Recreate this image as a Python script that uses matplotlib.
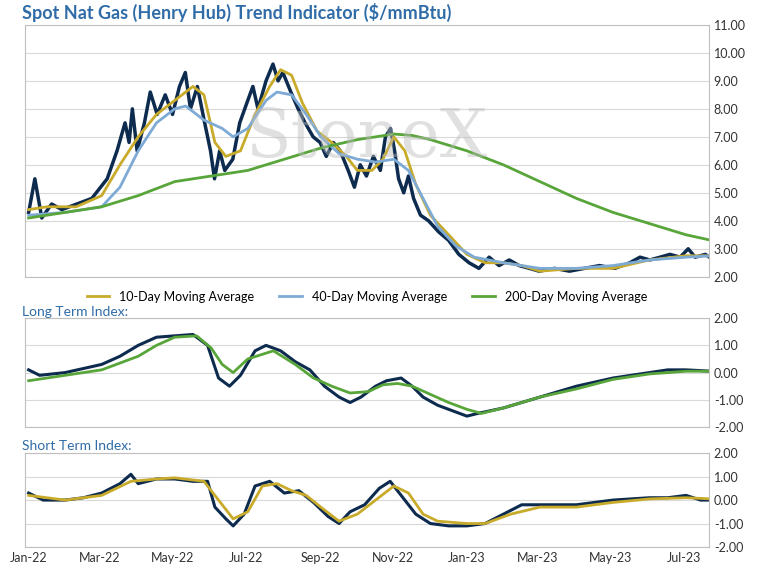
import numpy as np
import pandas as pd
import matplotlib
matplotlib.use("Agg")
import matplotlib.pyplot as plt
import matplotlib.dates as mdates

plt.rcParams['font.family'] = ['Lato', 'DejaVu Sans']

# Datos (aprox.); *_m = meses desde ene-22
price_m = [0.0, 0.17, 0.36, 0.63, 0.91, 1.32, 1.73, 2.15, 2.42, 2.64, 2.75, 2.84,
           2.97, 3.17, 3.33, 3.52, 3.74, 3.94, 4.13, 4.29, 4.43, 4.62, 4.82, 4.98,
           5.09, 5.23, 5.37, 5.59, 5.78, 6.0, 6.14, 6.28, 6.5, 6.69, 6.83, 6.96,
           7.18, 7.38, 7.57, 7.79, 7.98, 8.15, 8.34, 8.53, 8.75, 8.92, 9.08, 9.25,
           9.44, 9.63, 9.77, 9.91, 10.02, 10.13, 10.27, 10.4, 10.54, 10.73, 10.95,
           11.23, 11.5, 11.78, 12.06, 12.33, 12.61, 12.88, 13.16, 13.43, 13.71,
           13.98, 14.4, 14.81, 15.22, 15.63, 16.05, 16.46, 16.74, 17.01, 17.29,
           17.56, 17.84, 18.06, 18.25, 18.53, 18.7]
price = [4.3, 5.5, 4.1, 4.6, 4.4, 4.6, 4.8, 5.5, 6.5, 7.5, 6.8, 8.0,
         6.5, 7.5, 8.6, 7.8, 8.5, 7.8, 8.8, 9.3, 8.0, 8.8, 7.5, 6.5,
         5.5, 6.5, 5.8, 6.2, 7.5, 8.3, 8.8, 8.0, 9.0, 9.6, 9.0, 9.3,
         8.6, 8.0, 7.5, 7.0, 6.8, 6.3, 6.8, 6.5, 5.8, 5.2, 6.0, 5.6,
         6.3, 5.8, 7.0, 7.3, 6.5, 5.5, 5.0, 5.6, 4.8, 4.2, 4.0,
         3.6, 3.3, 2.8, 2.5, 2.3, 2.7, 2.4, 2.6, 2.4, 2.3,
         2.2, 2.3, 2.2, 2.3, 2.4, 2.3, 2.5, 2.7, 2.6, 2.7,
         2.8, 2.7, 3.0, 2.7, 2.8, 2.65]
ma10_m = [0, 0.5, 1.3, 2, 2.5, 3, 3.5, 4, 4.5, 4.8, 5.1, 5.4, 5.8, 6.2, 6.6, 6.9,
          7.2, 7.5, 7.9, 8.3, 8.7, 9.0, 9.4, 9.7, 10.0, 10.3, 10.6, 11.0, 11.5,
          12.0, 12.5, 13, 13.5, 14, 15, 16, 17, 18, 18.7]
ma10 = [4.4, 4.5, 4.5, 4.9, 6.0, 7.0, 7.8, 8.3, 8.8, 8.5, 6.8, 6.3, 6.5, 7.8,
        8.8, 9.4, 9.2, 8.2, 7.2, 6.8, 6.3, 5.8, 5.8, 6.2, 7.0, 6.5, 5.3, 4.2,
        3.5, 2.8, 2.5, 2.5, 2.4, 2.2, 2.3, 2.3, 2.6, 2.75, 2.75]
ma40_m = [0, 1, 2, 2.5, 3, 3.5, 4, 4.3, 4.8, 5.3, 5.6, 6, 6.5, 6.8, 7.2, 7.6, 8,
          8.5, 9, 9.5, 10, 10.4, 10.8, 11.2, 11.7, 12.2, 13, 14, 15, 16, 17, 18, 18.7]
ma40 = [4.2, 4.3, 4.5, 5.2, 6.5, 7.5, 8.0, 8.1, 7.6, 7.3, 7.0, 7.3, 8.3, 8.6,
        8.5, 7.8, 7.0, 6.4, 6.2, 6.1, 6.2, 5.8, 4.8, 3.8, 3.1, 2.7, 2.5, 2.3,
        2.3, 2.4, 2.6, 2.7, 2.75]
ma200_m = [0, 2, 3, 4, 5, 6, 7, 8, 9, 10, 10.5, 11, 12, 13, 14, 15, 16, 17, 18, 18.7]
ma200 = [4.1, 4.5, 4.9, 5.4, 5.6, 5.8, 6.2, 6.6, 6.9, 7.1, 7.05, 6.9, 6.5, 6.0,
         5.4, 4.8, 4.3, 3.9, 3.5, 3.3]
lt_m = [0, 0.3, 1, 2, 2.5, 3, 3.5, 4, 4.5, 4.9, 5.2, 5.5, 5.8, 6.2, 6.5, 6.9,
        7.3, 7.7, 8.1, 8.5, 8.8, 9.1, 9.5, 9.8, 10.2, 10.5, 10.8, 11.2, 11.6,
        12, 12.3, 13, 14, 15, 16, 17, 17.5, 18, 18.7]
lt_idx = [0.1, -0.1, 0.0, 0.3, 0.6, 1.0, 1.3, 1.35, 1.4, 1.0, -0.2, -0.5, -0.1,
          0.8, 1.0, 0.8, 0.4, 0.1, -0.5, -0.9, -1.1, -0.9, -0.5, -0.3, -0.2,
          -0.5, -0.9, -1.2, -1.4, -1.6, -1.5, -1.3, -0.9, -0.5, -0.2, 0.0, 0.1,
          0.1, 0.05]
ltma_m = [0, 1, 2, 3, 3.5, 4, 4.6, 5, 5.3, 5.6, 6, 6.7, 7.3, 7.8, 8.3, 8.8, 9.3,
          9.7, 10.1, 10.5, 11, 11.5, 12, 12.4, 13, 14, 15, 16, 17, 18, 18.7]
lt_ma = [-0.3, -0.1, 0.1, 0.6, 1.0, 1.3, 1.35, 0.9, 0.3, 0.0, 0.5, 0.8, 0.3,
         -0.2, -0.5, -0.75, -0.7, -0.45, -0.4, -0.5, -0.8, -1.1, -1.35, -1.5,
         -1.3, -0.9, -0.6, -0.25, -0.05, 0.05, 0.05]
st_m = [0, 0.4, 1, 1.5, 2, 2.5, 2.8, 3, 3.5, 4, 4.5, 4.9, 5.1, 5.4, 5.6, 5.9,
        6.2, 6.6, 7, 7.4, 7.8, 8.2, 8.5, 8.8, 9.2, 9.6, 9.9, 10.2, 10.6, 11,
        11.5, 12, 12.5, 13, 13.5, 14, 15, 16, 17, 17.5, 18, 18.4, 18.7]
st_idx = [0.3, 0.0, 0.0, 0.1, 0.3, 0.7, 1.1, 0.7, 0.9, 0.9, 0.8, 0.8, -0.3,
          -0.8, -1.1, -0.6, 0.6, 0.8, 0.3, 0.4, -0.1, -0.7, -1.0, -0.5, -0.2,
          0.5, 0.8, 0.2, -0.6, -1.0, -1.1, -1.1, -1.0, -0.6, -0.2, -0.2, -0.2,
          0.0, 0.1, 0.1, 0.2, 0.0, 0.0]
stma_m = [0, 1, 2, 2.8, 3.5, 4, 4.8, 5.2, 5.6, 6.0, 6.4, 6.8, 7.2, 7.6, 8.0,
          8.5, 9.0, 9.5, 10, 10.4, 10.8, 11.2, 12, 12.5, 13.2, 14, 15, 16, 17,
          18, 18.7]
st_ma = [0.2, 0.0, 0.2, 0.8, 0.9, 0.95, 0.8, 0.0, -0.8, -0.5, 0.6, 0.7, 0.4,
         0.2, -0.3, -0.9, -0.6, 0.0, 0.6, 0.3, -0.6, -0.9, -1.0, -1.0, -0.6,
         -0.3, -0.3, -0.1, 0.05, 0.1, 0.05]

start = pd.Timestamp('2022-01-01')
x0, x1 = pd.Timestamp('2021-12-29'), pd.Timestamp('2023-07-22')
def fechas(m):
    return start + pd.to_timedelta(np.array(m) * 30.44, unit='D')

navy, gold, blue, green = '#0d2b4e', '#c8ab2a', '#7eaad6', '#58a53a'
grid = '#d9d9d9'

fig = plt.figure(figsize=(7.59, 5.79), dpi=100)
ax1 = fig.add_axes([0.033, 0.522, 0.901, 0.435])
ax2 = fig.add_axes([0.033, 0.2625, 0.901, 0.188])
ax3 = fig.add_axes([0.033, 0.0553, 0.901, 0.162])

ax1.plot(fechas(price_m), price, color=navy, lw=2.5)
ax1.plot(fechas(ma10_m), ma10, color=gold, lw=2, label='10-Day Moving Average')
ax1.plot(fechas(ma40_m), ma40, color=blue, lw=2, label='40-Day Moving Average')
ax1.plot(fechas(ma200_m), ma200, color=green, lw=2, label='200-Day Moving Average')
ax1.set_ylim(2, 11)
ax1.set_yticks(np.arange(2, 12, 1))
ax1.text(0.5, 0.55, 'StoneX', transform=ax1.transAxes, fontsize=48,
         color='#bbbbbb', alpha=0.45, ha='center', va='center', family='DejaVu Serif')
ax1.legend(loc='upper center', bbox_to_anchor=(0.5, -0.01), ncol=3, frameon=False,
           fontsize=9, handlelength=1.8)
fig.text(0.029, 0.968, 'Spot Nat Gas (Henry Hub) Trend Indicator ($/mmBtu)',
         fontsize=13, fontweight='bold', color='#2f6ca8')

ax2.plot(fechas(lt_m), lt_idx, color=navy, lw=2.2)
ax2.plot(fechas(ltma_m), lt_ma, color=green, lw=2)
fig.text(0.029, 0.455, 'Long Term Index:', fontsize=10, color='#2f6ca8')

ax3.plot(fechas(st_m), st_idx, color=navy, lw=2.2)
ax3.plot(fechas(stma_m), st_ma, color=gold, lw=2)
fig.text(0.029, 0.222, 'Short Term Index:', fontsize=10, color='#2f6ca8')

for ax in (ax1, ax2, ax3):
    ax.set_xlim(x0, x1)
    ax.yaxis.tick_right()
    ax.yaxis.set_major_formatter(matplotlib.ticker.FormatStrFormatter('%.2f'))
    ax.tick_params(labelsize=9, length=0, colors='#333333')
    ax.grid(axis='y', color=grid, lw=0.8)
    ax.set_axisbelow(True)
    for s in ax.spines.values():
        s.set_color('#bfbfbf')
    ax.xaxis.set_major_locator(mdates.MonthLocator(bymonth=[1, 3, 5, 7, 9, 11]))
    ax.xaxis.set_major_formatter(mdates.DateFormatter('%b-%y'))
for ax in (ax2, ax3):
    ax.set_ylim(-2, 2)
    ax.set_yticks([-2, -1, 0, 1, 2])
ax1.set_xticklabels([])
ax2.set_xticklabels([])

fig.savefig('out.png', dpi=100)
